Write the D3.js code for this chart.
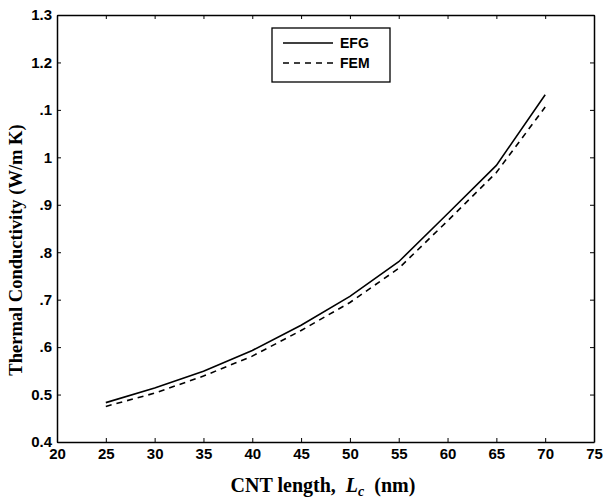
<!DOCTYPE html>
<html>
<head>
  <meta charset="utf-8">
  <title>Thermal Conductivity vs CNT length</title>
  <script src="https://d3js.org/d3.v7.min.js"></script>
  <style>
    body { margin: 0; background: #fff; }
  </style>
</head>
<body>
  <svg id="chart"></svg>

  <script>
    // Values
    var lengths = [25, 30, 35, 40, 45, 50, 55, 60, 65, 70];
    var efg = [0.483, 0.514, 0.549, 0.593, 0.646, 0.707, 0.780, 0.881, 0.983, 1.132];
    var fem = [0.475, 0.503, 0.539, 0.581, 0.635, 0.694, 0.766, 0.866, 0.968, 1.106];

    var xTicks = [20, 25, 30, 35, 40, 45, 50, 55, 60, 65, 70, 75];
    var yTicks = [0.4, 0.5, 0.6, 0.7, 0.8, 0.9, 1.0, 1.1, 1.2, 1.3];
    // labels as printed in the figure (leading digits lost in the scan)
    var yTickLabels = ["0.4", "0.5", ".6", ".7", ".8", ".9", "1", ".1", "1.2", "1.3"];

    var seriesNames = ["EFG", "FEM"];

    var width = 603, height = 498;
    var margin = { top: 15, right: 9, bottom: 56, left: 57 };

    var svg = d3.select("#chart")
                .attr("width", width)
                .attr("height", height);

    var x = d3.scaleLinear().domain([20, 75]).range([margin.left, width - margin.right]);
    var y = d3.scaleLinear().domain([0.4, 1.3]).range([height - margin.bottom, margin.top]);

    function tickText(g) {
      g.selectAll("text").attr("font-family", "Liberation Sans, Arial, sans-serif")
       .attr("font-weight", "bold").attr("font-size", 15).attr("fill", "#000");
    }

    // Axes with inward ticks on all four sides
    svg.append("g")
       .attr("transform", "translate(0," + y(0.4) + ")")
       .call(d3.axisBottom(x).tickValues(xTicks).tickSizeInner(-4).tickSizeOuter(0).tickPadding(6))
       .call(tickText);

    svg.append("g")
       .attr("transform", "translate(" + x(20) + ",0)")
       .call(d3.axisLeft(y).tickValues(yTicks).tickFormat(function(d, i) { return yTickLabels[i]; })
               .tickSizeInner(-4).tickSizeOuter(0).tickPadding(5))
       .call(tickText);

    svg.append("g")
       .attr("transform", "translate(0," + y(1.3) + ")")
       .call(d3.axisTop(x).tickValues(xTicks).tickSizeInner(-4).tickSizeOuter(0).tickFormat(""));

    svg.append("g")
       .attr("transform", "translate(" + x(75) + ",0)")
       .call(d3.axisRight(y).tickValues(yTicks).tickSizeInner(-4).tickSizeOuter(0).tickFormat(""));

    svg.selectAll(".domain").attr("stroke", "#000").attr("stroke-width", 1.5);
    svg.selectAll(".tick line").attr("stroke", "#000").attr("stroke-width", 1);

    // Lines
    var line = d3.line()
                 .x(function(d) { return x(d[0]); })
                 .y(function(d) { return y(d[1]); });

    svg.append("path")
       .datum(d3.zip(lengths, efg))
       .attr("d", line)
       .attr("fill", "none")
       .attr("stroke", "#000")
       .attr("stroke-width", 1.6);

    svg.append("path")
       .datum(d3.zip(lengths, fem))
       .attr("d", line)
       .attr("fill", "none")
       .attr("stroke", "#000")
       .attr("stroke-width", 1.6)
       .attr("stroke-dasharray", "6,5");

    // Legend
    var legend = svg.append("g").attr("transform", "translate(272,28)");
    legend.append("rect")
          .attr("width", 118).attr("height", 54)
          .attr("fill", "#fff").attr("stroke", "#000").attr("stroke-width", 1.3);
    var dashes = [null, "6,5"];
    seriesNames.forEach(function(name, i) {
      var yy = 15 + i * 20;
      legend.append("line")
            .attr("x1", 11).attr("x2", 61).attr("y1", yy).attr("y2", yy)
            .attr("stroke", "#000").attr("stroke-width", 1.4)
            .attr("stroke-dasharray", dashes[i]);
      legend.append("text")
            .attr("x", 68).attr("y", yy + 5)
            .attr("font-family", "Liberation Sans, Arial, sans-serif")
            .attr("font-weight", "bold").attr("font-size", 14)
            .text(name);
    });

    // Axis titles
    var xt = svg.append("text")
       .attr("x", 323).attr("y", 492)
       .attr("text-anchor", "middle")
       .attr("font-family", "Liberation Serif, Times New Roman, serif")
       .attr("font-weight", "bold").attr("font-size", 20);
    xt.append("tspan").text("CNT length,\u00a0\u00a0");
    xt.append("tspan").attr("font-style", "italic").text("L");
    xt.append("tspan").attr("font-style", "italic").attr("font-size", 14).attr("dy", 4).text("c");
    xt.append("tspan").attr("dy", -4).text("\u00a0\u00a0(nm)");

    svg.append("text")
       .attr("transform", "translate(22,250) rotate(-90)")
       .attr("text-anchor", "middle")
       .attr("font-family", "Liberation Serif, Times New Roman, serif")
       .attr("font-weight", "bold").attr("font-size", 18.5)
       .text("Thermal Conductivity (W/m K)");
  </script>
</body>
</html>
